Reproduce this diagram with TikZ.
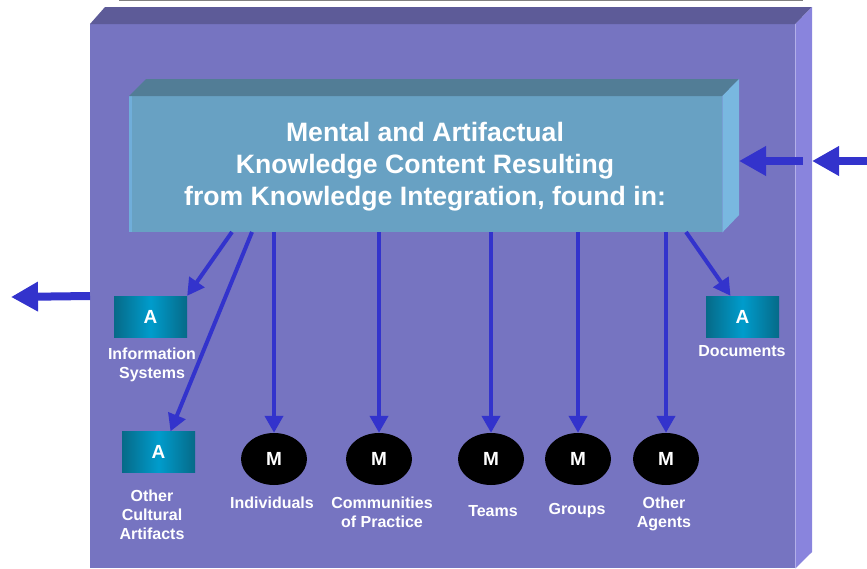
\documentclass[tikz,border=0pt]{standalone}
\usepackage{fontspec}
\setmainfont{Liberation Sans}
\usetikzlibrary{arrows.meta,calc,shapes.geometric}
\definecolor{outerfront}{HTML}{7674C1}
\definecolor{outertop}{HTML}{5D5B98}
\definecolor{outerside}{HTML}{8984DD}
\definecolor{innerfront}{HTML}{68A1C3}
\definecolor{innertop}{HTML}{527D96}
\definecolor{innerside}{HTML}{79B8E0}
\definecolor{innerstripe}{HTML}{70AEDA}
\definecolor{arrowblue}{HTML}{3333CC}
\definecolor{tealdark}{HTML}{066A88}
\definecolor{tealbright}{HTML}{009CCC}
\definecolor{topline}{HTML}{808080}
\begin{document}
\begin{tikzpicture}[x=1pt,y=-1pt,
 abox/.style={rectangle, minimum width=73pt, minimum height=41pt, inner sep=0pt,
   left color=tealdark, right color=tealdark, middle color=tealbright,
   text=white, font=\bfseries\fontsize{19}{21}\selectfont},
 mnode/.style={ellipse, fill=black, minimum width=66pt, minimum height=52pt, inner sep=0pt,
   text=white, font=\bfseries\fontsize{19}{21}\selectfont},
 lbl/.style={text=white, align=center, font=\bfseries\fontsize{16}{19}\selectfont, inner sep=0pt},
 link/.style={draw=arrowblue, line width=4pt, -{Triangle[length=17pt,width=18pt]}},
 bigarrow/.style={draw=arrowblue, line width=8pt, -{Triangle[length=27pt,width=28pt]}}
]
\useasboundingbox (0,0) rectangle (867,568);
% top gray line
\draw[topline, line width=1.5pt] (119,0.7) -- (803,0.7);
% outer box
\node[rectangle, fill=outerfront, minimum width=705pt, minimum height=544pt, inner sep=0pt,
  anchor=north west] (outer) at (90,24) {};
\fill[outertop] (outer.north west) -- ++(15,-17) -- (812,7) -- (outer.north east) -- cycle;
\fill[outerside] (outer.north east) -- (812,7) -- (812,552) -- (outer.south east) -- cycle;
% inner box
\node[rectangle, fill=innerfront, minimum width=593pt, minimum height=136pt, inner sep=0pt,
  anchor=north west] (kc) at (129,96) {};
\fill[innerstripe] (kc.north west) rectangle ++(3,136);
\fill[innertop] (kc.north west) -- ++(17,-17) -- (739,79) -- (kc.north east) -- cycle;
\fill[innerside] (kc.north east) -- (739,79) -- (739,215) -- (kc.south east) -- cycle;
\node[text=white, align=center, inner sep=0pt,
  font=\bfseries\fontsize{26.6}{32}\selectfont] (kctext) at (425,167)
  {Mental and Artifactual\\Knowledge Content Resulting\\from Knowledge Integration, found in:};
% artifact boxes
\node[abox] (is) at (150.5,316.5) {A};
\node[abox] (oca) at (158.5,452) {A};
\node[abox] (doc) at (742.5,316.5) {A};
% mental nodes
\node[mnode] (ind) at (274,459) {M};
\node[mnode] (cop) at (379,459) {M};
\node[mnode] (team) at (491,459) {M};
\node[mnode] (grp) at (578,459) {M};
\node[mnode] (oag) at (666,459) {M};
% labels
\node[lbl] (lis) at (152,365) {Information\\Systems};
\node[lbl] (loca) at (152,515) {Other\\Cultural\\Artifacts};
\node[lbl] (ldoc) at (742,351) {Documents};
\node[lbl] (lind) at (272,503) {Individuals};
\node[lbl] (lcop) at (382,512.5) {Communities\\of Practice};
\node[lbl] (lteam) at (493,511) {Teams};
\node[lbl] (lgrp) at (577,511) {Groups};
\node[lbl] (loag) at (664,513.5) {Other\\Agents};
% connectors from the content box
\coordinate (s1) at (232,232);
\coordinate (s2) at (252,232);
\coordinate (s8) at (686,232);
\draw[link] (s1) -- (is.north east);
\draw[link] (s2) -- ([xshift=12pt]oca.north);
\draw[link] (ind.north |- kc.south) -- (ind.north);
\draw[link] (cop.north |- kc.south) -- (cop.north);
\draw[link] (team.north |- kc.south) -- (team.north);
\draw[link] (grp.north |- kc.south) -- (grp.north);
\draw[link] (oag.north |- kc.south) -- (oag.north);
\draw[link] (s8) -- ([xshift=-12pt]doc.north);
% side arrows
\coordinate (rin) at (867,161);
\coordinate (rside) at (812,161);
\coordinate (rmid) at (803,161);
\coordinate (kcside) at (739,161);
\coordinate (lout) at (11,297);
\coordinate (lstart) at (90,296);
\draw[bigarrow] (rin) -- (rside);
\draw[bigarrow] (rmid) -- (kcside);
\draw[bigarrow] (lstart) -- (lout);
\end{tikzpicture}
\end{document}
